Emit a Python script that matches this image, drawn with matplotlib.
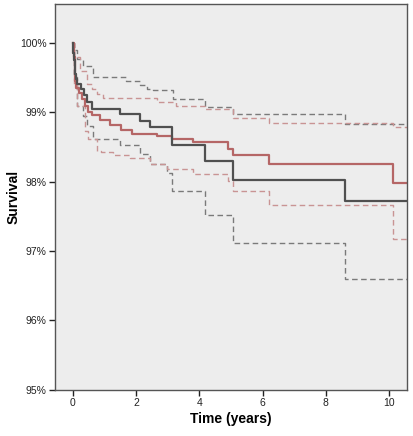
import numpy as np
import matplotlib.pyplot as plt
from matplotlib.ticker import FuncFormatter

plt.rcParams['font.family'] = ['Liberation Sans', 'DejaVu Sans']

# Kaplan-Meier Stufen (Zeit in Jahren, Ueberleben in %)
t_black = [0, 0.02, 0.04, 0.06, 0.08, 0.1, 0.13, 0.25, 0.35, 0.45, 0.6, 1.49, 2.13, 2.44, 3.13, 4.18, 5.07, 8.6]
s_black = [100, 99.85, 99.75, 99.65, 99.55, 99.48, 99.4, 99.33, 99.25, 99.15, 99.05, 98.97, 98.875, 98.78, 98.52, 98.29, 98.03, 97.72]

t_red = [0, 0.03, 0.06, 0.09, 0.12, 0.2, 0.3, 0.4, 0.5, 0.6, 0.86, 1.18, 1.52, 1.86, 2.65, 3.13, 3.81, 4.92, 5.07, 6.21, 10.12]
s_red = [100, 99.8, 99.6, 99.45, 99.35, 99.27, 99.19, 99.09, 99.0, 98.957, 98.885, 98.81, 98.75, 98.69, 98.65, 98.61, 98.57, 98.47, 98.39, 98.26, 97.98]

# Konfidenzintervalle
t_black_hi = [0, 0.05, 0.15, 0.33, 0.65, 1.7, 2.13, 2.34, 2.55, 3.18, 4.18, 5.07, 8.6]
s_black_hi = [100, 99.9, 99.76, 99.66, 99.5, 99.45, 99.39, 99.34, 99.32, 99.19, 99.07, 98.97, 98.83]
t_black_lo = [0, 0.05, 0.15, 0.33, 0.46, 0.65, 1.49, 2.13, 2.44, 2.97, 3.13, 4.18, 5.07, 8.6]
s_black_lo = [100, 99.5, 99.09, 98.95, 98.8, 98.62, 98.53, 98.4, 98.25, 98.13, 97.87, 97.52, 97.11, 96.6]

t_red_hi = [0, 0.05, 0.23, 0.46, 0.6, 0.76, 0.97, 2.65, 3.28, 4.18, 5.07, 6.21, 10.12]
s_red_hi = [100, 99.8, 99.59, 99.4, 99.33, 99.26, 99.21, 99.14, 99.09, 99.04, 98.92, 98.84, 98.78]
t_red_lo = [0, 0.05, 0.15, 0.39, 0.49, 0.76, 0.9, 1.28, 1.81, 2.44, 2.97, 3.81, 4.92, 5.07, 6.21, 10.12]
s_red_lo = [100, 99.4, 99.09, 98.73, 98.61, 98.44, 98.42, 98.38, 98.34, 98.25, 98.18, 98.11, 98.01, 97.86, 97.66, 97.17]

t_end = 10.56


def stufen(t, s):
    return list(t) + [t_end], list(s) + [s[-1]]


fig = plt.figure(figsize=(4.13, 4.36), dpi=100)
ax = fig.add_axes([0.133, 0.106, 0.852, 0.885])
ax.set_facecolor('#ededed')

for t, s in [(t_black_hi, s_black_hi), (t_black_lo, s_black_lo)]:
    x, y = stufen(t, s)
    ax.step(x, y, where='post', color='#7a7a7a', lw=1, ls=(0, (4, 2.5)))
for t, s in [(t_red_hi, s_red_hi), (t_red_lo, s_red_lo)]:
    x, y = stufen(t, s)
    ax.step(x, y, where='post', color='#c99494', lw=1, ls=(0, (4, 2.5)))

x, y = stufen(t_red, s_red)
ax.step(x, y, where='post', color='#b56666', lw=1.6)
x, y = stufen(t_black, s_black)
ax.step(x, y, where='post', color='#505050', lw=1.6)

ax.set_xlim(-0.56, t_end)
ax.set_ylim(95, 100.56)
ax.set_xticks([0, 2, 4, 6, 8, 10])
ax.set_yticks([95, 96, 97, 98, 99, 100])
ax.yaxis.set_major_formatter(FuncFormatter(lambda v, p: '%d%%' % v))
ax.tick_params(direction='out', length=4, width=1, labelsize=7.5, colors='#222222', pad=2)
for sp in ax.spines.values():
    sp.set_color('#555555')
    sp.set_linewidth(1)

ax.set_xlabel('Time (years)', fontsize=10, fontweight='bold')
ax.set_ylabel('Survival', fontsize=10, fontweight='bold')
ax.xaxis.set_label_coords(0.5, -0.057)
ax.yaxis.set_label_coords(-0.099, 0.5)

fig.savefig('out.png')
